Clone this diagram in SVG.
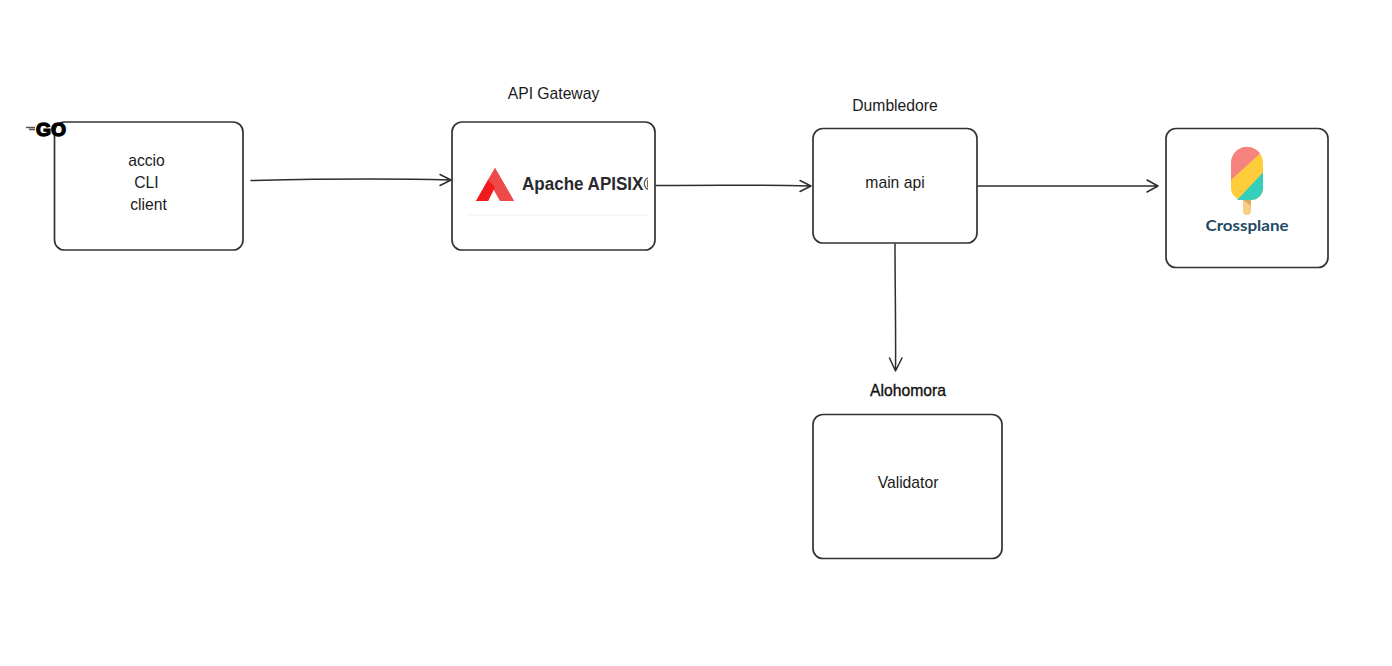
<svg xmlns="http://www.w3.org/2000/svg" width="1392" height="666" viewBox="0 0 1392 666">
<style>
.box{fill:#fff;stroke:#333;stroke-width:1.700}
.lbl{font-family:"Liberation Sans",Arial,sans-serif;font-size:15.700px;fill:#1b1b1b;text-anchor:middle}
.conn{fill:none;stroke:#2e2e2e;stroke-width:1.500;stroke-linecap:round;stroke-linejoin:round}
</style>
<defs><clipPath id="apisixClip"><rect x="465" y="160" width="183" height="50"/></clipPath></defs>
<rect width="1392" height="666" fill="#fff"/>
<g id="node-accio">
<rect class="box" x="54.500" y="122" width="188.500" height="128" rx="10"/>
<text class="lbl" x="146.500" y="165.500">accio</text>
<text class="lbl" x="146.500" y="187.500">CLI</text>
<text class="lbl" x="148.500" y="209.500">client</text>
<path d="M26 127.500h9M29 129.500h6" stroke="#555" stroke-width="1.300" fill="none"/>
<text x="36" y="136" font-family="'Liberation Sans',Arial,sans-serif" font-size="18" font-weight="700" stroke="#000" stroke-width="1.300" textLength="30" lengthAdjust="spacingAndGlyphs">GO</text>
</g>
<g id="node-apisix">
<text class="lbl" x="553.500" y="98.500">API Gateway</text>
<rect class="box" x="452" y="122" width="203" height="128" rx="10"/>
<path d="M495 168L514 201H503L495 187L488 201H476Z" fill="#e8343a"/>
<path d="M495 168L488 180L500 201H514Z" fill="#ee4a4a"/>
<path d="M488 180L476 201H488L495 187Z" fill="#f21a1a"/>
<g clip-path="url(#apisixClip)"><text x="522" y="190" font-family="'Liberation Sans',Arial,sans-serif" font-size="18" font-weight="700" fill="#2a2a2e" textLength="134" lengthAdjust="spacingAndGlyphs">Apache APISIX®</text></g>
<path d="M466 215H648" stroke="#efefef" stroke-width="1.200"/>
</g>
<g id="node-main-api">
<text class="lbl" x="895" y="110.500">Dumbledore</text>
<rect class="box" x="813" y="128.500" width="164" height="114.500" rx="10"/>
<text class="lbl" x="895" y="187.500">main api</text>
</g>
<g id="node-crossplane">
<rect class="box" x="1166" y="128.500" width="162" height="139" rx="10"/>
<rect x="1243" y="198" width="8" height="17" rx="4" fill="#f6cf85"/>
<path d="M1243 200h8v6z" fill="#dfa95f"/>
<path d="M1231 163a16 16 0 0 1 32 0v25a12 12 0 0 1-12 12h-8a12 12 0 0 1-12-12Z" fill="#ffcd3c"/>
<path d="M1231 180V163a16 16 0 0 1 29-9.500Z" fill="#f78380"/>
<path d="M1263 172.500V188a12 12 0 0 1-12 12h-14Z" fill="#35d0ba"/>
<text x="1247" y="231" text-anchor="middle" font-family="Lato,'Noto Sans',sans-serif" font-size="15.500" font-weight="700" fill="#1f4a66" textLength="83" lengthAdjust="spacingAndGlyphs">Crossplane</text>
</g>
<g id="node-validator">
<text x="908" y="395.500" text-anchor="middle" font-family="'Liberation Sans',Arial,sans-serif" font-size="15.700" fill="#111" stroke="#111" stroke-width="0.350">Alohomora</text>
<rect class="box" x="813" y="414.500" width="189" height="144" rx="10"/>
<text class="lbl" x="908" y="487.500">Validator</text>
</g>
<g id="connectors">
<path class="conn" d="M251 180.500C320 179 390 178.500 451 180M440 174.500L451 180L440 185.500"/>
<path class="conn" d="M656 185.500C710 185 765 185 811 186M800 180.500L811 186L800 191.500"/>
<path class="conn" d="M978 186C1040 186.500 1100 186.500 1158 186M1147 180L1158 186L1147 192"/>
<path class="conn" d="M895 244C895 290 896 330 895.500 371M889.500 358L895.500 371L902 358"/>
</g>
</svg>
